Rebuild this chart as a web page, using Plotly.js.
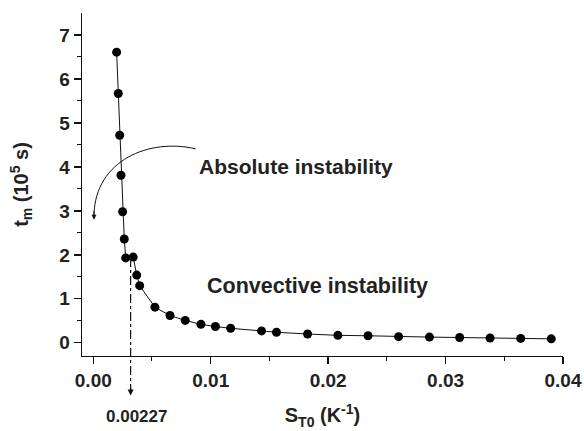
<!DOCTYPE html>
<html><head><meta charset="utf-8">
<script src="https://cdn.plot.ly/plotly-3.0.1.min.js"></script>
<style>html,body{margin:0;padding:0;background:#fff}#chart{width:584px;height:431px}</style>
</head><body><div id="chart"></div>
<script>
const sT0 = [0.00199,0.00213,0.00225,0.00236,0.0025,0.00264,0.00276,0.0034,0.0037,0.00395,0.00525,0.00653,0.00783,0.00917,0.0104,0.0117,0.01433,0.0156,0.01825,0.02083,0.0234,0.026,0.02863,0.0312,0.03379,0.0364,0.039];
const tm = [6.61,5.67,4.72,3.81,2.98,2.36,1.93,1.95,1.54,1.30,0.81,0.62,0.51,0.42,0.37,0.33,0.27,0.24,0.20,0.17,0.16,0.14,0.13,0.12,0.11,0.10,0.09];
const criticalS = 0.00318;
const criticalLabel = '0.00227';
const xTicks = [0,0.01,0.02,0.03,0.04];
const xMinor = [0.005,0.015,0.025,0.035];
const yTicks = [0,1,2,3,4,5,6,7];
const yMinor = [0.5,1.5,2.5,3.5,4.5,5.5,6.5];

const F = 'Liberation Sans, Arial, sans-serif';
const C = '#222';
const trace = {x:sT0, y:tm, mode:'lines+markers', type:'scatter',
  line:{color:'#111', width:1}, marker:{color:'#000', size:9}, cliponaxis:false, hoverinfo:'none'};

const layout = {
  width:584, height:431,
  margin:{l:82, r:21, t:13, b:75},
  paper_bgcolor:'#fff', plot_bgcolor:'#fff',
  showlegend:false,
  font:{family:F, color:C},
  xaxis:{range:[-0.00096,0.04], tickmode:'array', tickvals:xTicks, tickformat:'.2f', showgrid:false, zeroline:false,
    showline:true, linecolor:'#111', linewidth:1.3, ticks:'outside', ticklen:7, tickwidth:1.3, tickcolor:'#111',
    tickfont:{family:F, size:19, color:C, weight:'bold'},
    minor:{tickmode:'array', tickvals:xMinor, ticks:'outside', ticklen:4, tickwidth:1, tickcolor:'#111', showgrid:false},
    title:{text:'<b>S<sub>T0</sub> (K<sup>-1</sup>)</b>', font:{family:F, size:20, color:C}, standoff:18}},
  yaxis:{range:[-0.3,7.5], tickmode:'array', tickvals:yTicks, showgrid:false, zeroline:false,
    showline:true, linecolor:'#111', linewidth:1.3, ticks:'outside', ticklen:7, tickwidth:1.3, tickcolor:'#111',
    tickfont:{family:F, size:19, color:C, weight:'bold'},
    minor:{tickmode:'array', tickvals:yMinor, ticks:'outside', ticklen:4, tickwidth:1, tickcolor:'#111', showgrid:false},
    title:{text:'<b>t<sub>m</sub> (10<sup>5</sup> s)</b>', font:{family:F, size:20, color:C}, standoff:25}},
  shapes:[
    {type:'line', xref:'x', yref:'paper', x0:criticalS, x1:criticalS, y0:(1.93+0.3)/7.8, y1:-0.11,
      line:{color:'#111', width:1.2, dash:'dashdot'}},
    {type:'path', xref:'x', yref:'y', path:'M 0.00872,4.41 C 0.00483,4.66 0.000145,4.16 0.00006,2.9',
      line:{color:'#111', width:1}}
  ],
  annotations:[
    {x:criticalS, y:-0.115, xref:'x', yref:'paper', ax:0, ay:-10, axref:'pixel', ayref:'pixel', showarrow:true,
      arrowhead:2, arrowsize:1, arrowwidth:1.2, arrowcolor:'#111', text:''},
    {x:0.00006, y:2.8, xref:'x', yref:'y', ax:0, ay:-10, showarrow:true,
      arrowhead:2, arrowsize:1, arrowwidth:1, arrowcolor:'#111', text:''},
    {x:0.0037, y:-0.175, xref:'x', yref:'paper', xanchor:'center', yanchor:'middle', showarrow:false,
      text:'<b>'+criticalLabel+'</b>', font:{family:F, size:17, color:C}},
    {x:0.01729, y:4.0, xref:'x', yref:'y', showarrow:false, text:'<b>Absolute instability</b>',
      font:{family:F, size:21, color:C}},
    {x:0.01912, y:1.3, xref:'x', yref:'y', showarrow:false, text:'<b>Convective instability</b>',
      font:{family:F, size:21.5, color:C}}
  ]
};
Plotly.newPlot('chart',[trace],layout,{staticPlot:true, displayModeBar:false});
</script></body></html>
